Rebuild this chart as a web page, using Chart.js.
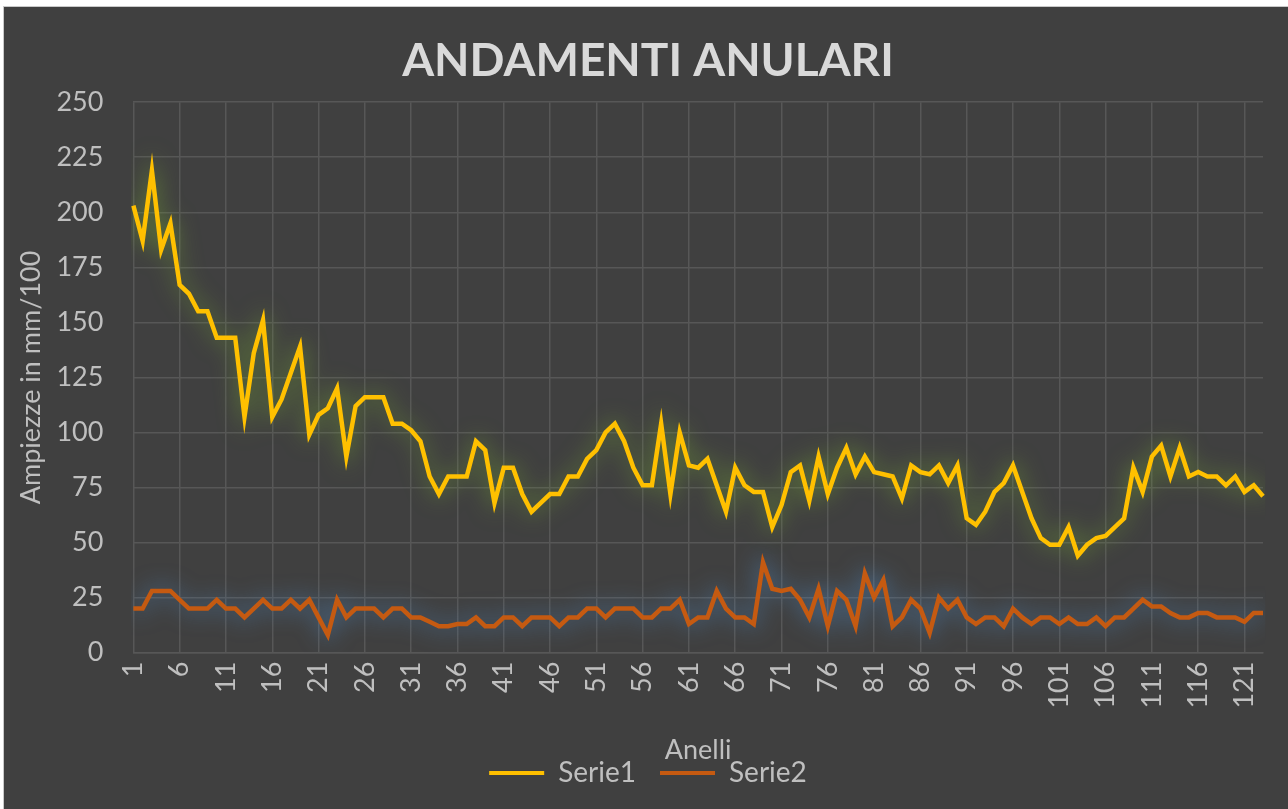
<!DOCTYPE html>
<html>
<head>
<meta charset="utf-8">
<script src="https://cdn.jsdelivr.net/npm/chart.js@4"></script>
<style>
    html, body { margin: 0; padding: 0; background: #ffffff; }
    #wrap {
        position: absolute;
        left: 3px; top: 6px;
        width: 1285px; height: 803px;
        border-left: 1px solid #c9c9c9;
        border-top: 1px solid #c9c9c9;
        background: #404040;
    }
</style>
</head>
<body>
<div id="wrap"><canvas id="chartAnelli" width="1285" height="803"></canvas></div>
<script>
// ============== DATI ==============

const anelli = Array.from({ length: 123 }, (_, i) => String(i + 1));

const serie1 = [
    203, 187, 219, 183, 195, 167, 163, 155, 155, 143,
    143, 143, 107, 136, 151, 107, 115, 127, 139, 99,
    108, 111, 120, 89, 112, 116, 116, 116, 104, 104,
    101, 96, 80, 72, 80, 80, 80, 96, 92, 68,
    84, 84, 72, 64, 68, 72, 72, 80, 80, 88,
    92, 100, 104, 96, 84, 76, 76, 104, 72, 100,
    85, 84, 88, 76, 64, 84, 76, 73, 73, 57,
    67, 82, 85, 69, 89, 72, 84, 93, 81, 89,
    82, 81, 80, 70, 85, 82, 81, 85, 77, 85,
    61, 58, 64, 73, 77, 85, 73, 61, 52, 49,
    49, 57, 44, 49, 52, 53, 57, 61, 84, 73,
    89, 94, 80, 93, 80, 82, 80, 80, 76, 80,
    73, 76, 71
];

const serie2 = [
    20, 20, 28, 28, 28, 24, 20, 20, 20, 24,
    20, 20, 16, 20, 24, 20, 20, 24, 20, 24,
    16, 8, 24, 16, 20, 20, 20, 16, 20, 20,
    16, 16, 14, 12, 12, 13, 13, 16, 12, 12,
    16, 16, 12, 16, 16, 16, 12, 16, 16, 20,
    20, 16, 20, 20, 20, 16, 16, 20, 20, 24,
    13, 16, 16, 28, 20, 16, 16, 13, 41, 29,
    28, 29, 24, 16, 29, 12, 28, 24, 12, 36,
    25, 33, 12, 16, 24, 20, 9, 25, 20, 24,
    16, 13, 16, 16, 12, 20, 16, 13, 16, 16,
    13, 16, 13, 13, 16, 12, 16, 16, 20, 24,
    21, 21, 18, 16, 16, 18, 18, 16, 16, 16,
    14, 18, 18
];

const yTicks = [0, 25, 50, 75, 100, 125, 150, 175, 200, 225, 250];

const coloriLinea = ['#FFC000', '#C55A11'];
const coloriAlone = ['rgba(120, 170, 50, 0.8)', 'rgba(80, 140, 200, 0.8)'];

const FONT = "Lato, 'Open Sans', sans-serif";
const COLORE_TESTO = '#bfbfbf';
const COLORE_GRIGLIA = '#575757';

// ============== PLUGIN ALONE (glow) ==============

const alonePlugin = {
    id: 'alone',
    beforeDatasetDraw(chart, args) {
        const ctx = chart.ctx;
        ctx.save();
        ctx.shadowColor = coloriAlone[args.index];
        ctx.shadowBlur = 22;
    },
    afterDatasetDraw(chart) {
        chart.ctx.restore();
    }
};

// ============== GRAFICO ==============

const ctx = document.getElementById('chartAnelli').getContext('2d');

new Chart(ctx, {
    type: 'line',
    data: {
        labels: anelli,
        datasets: [
            {
                label: 'Serie1',
                data: serie1,
                borderColor: coloriLinea[0],
                backgroundColor: coloriLinea[0],
                borderWidth: 4.5,
                pointRadius: 0,
                tension: 0,
                fill: false
            },
            {
                label: 'Serie2',
                data: serie2,
                borderColor: coloriLinea[1],
                backgroundColor: coloriLinea[1],
                borderWidth: 4.5,
                pointRadius: 0,
                tension: 0,
                fill: false
            }
        ]
    },
    options: {
        responsive: false,
        animation: false,
        layout: {
            padding: { left: 11, right: 8, top: 0, bottom: 13 }
        },
        plugins: {
            title: {
                display: true,
                text: 'ANDAMENTI ANULARI',
                color: '#d9d9d9',
                font: { family: FONT, size: 46, weight: 'bold' },
                padding: { top: 27, bottom: 13 }
            },
            legend: {
                display: true,
                position: 'bottom',
                labels: {
                    color: COLORE_TESTO,
                    font: { family: FONT, size: 28 },
                    boxWidth: 55,
                    boxHeight: 4,
                    padding: 24,
                    generateLabels(chart) {
                        return chart.data.datasets.map((ds, i) => ({
                            text: ds.label,
                            fillStyle: ds.borderColor,
                            strokeStyle: ds.borderColor,
                            lineWidth: 0,
                            fontColor: COLORE_TESTO,
                            hidden: false,
                            datasetIndex: i
                        }));
                    }
                }
            },
            tooltip: { enabled: false }
        },
        scales: {
            x: {
                offset: false,
                afterFit: (scale) => {
                    // margine destro come nel riferimento
                    scale.paddingRight = 26;
                },
                grid: {
                    color: (c) => (c.index % 5 === 0 ? COLORE_GRIGLIA : 'rgba(0,0,0,0)'),
                    lineWidth: 1.5,
                    drawTicks: false
                },
                border: { display: true, color: COLORE_GRIGLIA, width: 1.5 },
                ticks: {
                    autoSkip: false,
                    maxRotation: 90,
                    minRotation: 90,
                    padding: 9,
                    color: COLORE_TESTO,
                    font: { family: FONT, size: 27 },
                    callback: (val, idx) => (idx % 5 === 0 ? anelli[idx] : '')
                },
                title: {
                    display: true,
                    text: 'Anelli',
                    color: COLORE_TESTO,
                    font: { family: FONT, size: 27 },
                    padding: { top: 16, bottom: -31 }
                }
            },
            y: {
                min: 0,
                max: 250,
                afterBuildTicks: (axis) => {
                    axis.ticks = yTicks.map(v => ({ value: v }));
                },
                grid: {
                    color: COLORE_GRIGLIA,
                    lineWidth: 1.5,
                    drawTicks: false
                },
                border: { display: false },
                ticks: {
                    padding: 30,
                    color: COLORE_TESTO,
                    font: { family: FONT, size: 27 }
                },
                title: {
                    display: true,
                    text: 'Ampiezze in mm/100',
                    color: COLORE_TESTO,
                    font: { family: FONT, size: 27 },
                    padding: { top: 0, bottom: -21 }
                }
            }
        }
    },
    plugins: [alonePlugin]
});
</script>
</body>
</html>
